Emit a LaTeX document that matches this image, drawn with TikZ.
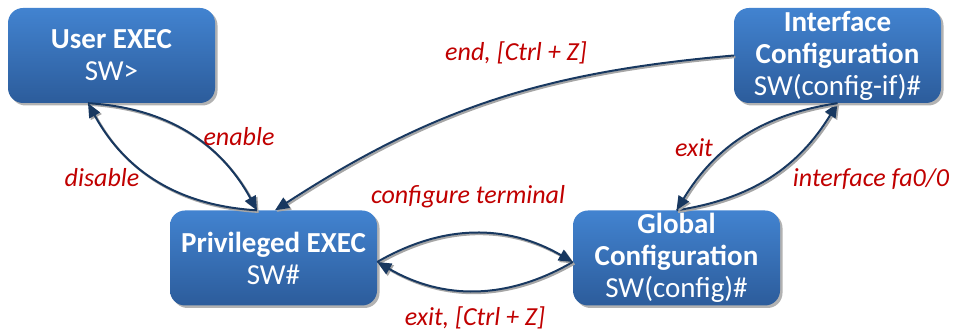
\documentclass[tikz,border=0pt]{standalone}
\usepackage{fontspec}
\setmainfont{Carlito}
\usetikzlibrary{arrows.meta,shadows}

\definecolor{boxtop}{RGB}{66,131,208}
\definecolor{boxbot}{RGB}{44,92,155}
\definecolor{arrowc}{RGB}{24,56,96}
\definecolor{lblred}{RGB}{192,0,0}

\tikzset{
  mode/.style={rounded corners=15pt, minimum width=207pt, minimum height=95pt,
    inner sep=0pt, top color=boxtop, bottom color=boxbot, text=white,
    align=center, font=\fontsize{29}{32}\selectfont,
    drop shadow={shadow xshift=2.5pt, shadow yshift=-2.5pt, fill=black, opacity=0.3}},
  cmd/.style={text=lblred, font=\fontsize{26}{28}\selectfont\itshape, inner sep=0pt},
  trans/.style={draw=arrowc, line width=2pt, -{Triangle[length=14pt,width=12pt]},
    preaction={draw=black!35, line width=2.2pt,
      transform canvas={shift={(1.6pt,-1.6pt)}}}},
}

\begin{document}
\begin{tikzpicture}[x=1pt,y=1pt]
\useasboundingbox (0,0) rectangle (955,331);

% mode boxes
\node[mode] (user) at (111.5,275.5) {\textbf{User EXEC}\\SW>};
\node[mode] (priv) at (273.5,73)    {\textbf{Privileged EXEC}\\SW\#};
\node[mode] (intf) at (837.5,275.5) {\textbf{Interface}\\\textbf{Configuration}\\SW(config-if)\#};
\node[mode] (glob) at (676.5,73)    {\textbf{Global}\\\textbf{Configuration}\\SW(config)\#};

% transitions
\draw[trans] ([xshift=-23.5pt]user.south) to[bend left=29] ([xshift=-16.5pt]priv.north);
\draw[trans] ([xshift=-16.5pt]priv.north) to[bend left=29] ([xshift=-23.5pt]user.south);
\draw[trans] (intf.west) to[out=185,in=33] ([xshift=1.5pt]priv.north);
\draw[trans] ([yshift=-4pt]priv.east) to[bend left=30] ([yshift=-4pt]glob.west);
\draw[trans] ([yshift=-4pt]glob.west) to[bend left=30] ([yshift=-4pt]priv.east);
\draw[trans] (glob.north) to[bend right=25] (intf.south);
\draw[trans] (intf.south) to[bend right=25] (glob.north);

% command labels
\node[cmd] (lenable)  at (239,194) {enable};
\node[cmd] (ldisable) at (102,153) {disable};
\node[cmd] (lend)     at (516,278) {end, [Ctrl + Z]};
\node[cmd] (lconf)    at (468,134) {configure terminal};
\node[cmd] (lexit1)   at (475,13)  {exit, [Ctrl + Z]};
\node[cmd] (lexit2)   at (694,183) {exit};
\node[cmd] (lintf)    at (871,152) {interface fa0/0};
\end{tikzpicture}
\end{document}
